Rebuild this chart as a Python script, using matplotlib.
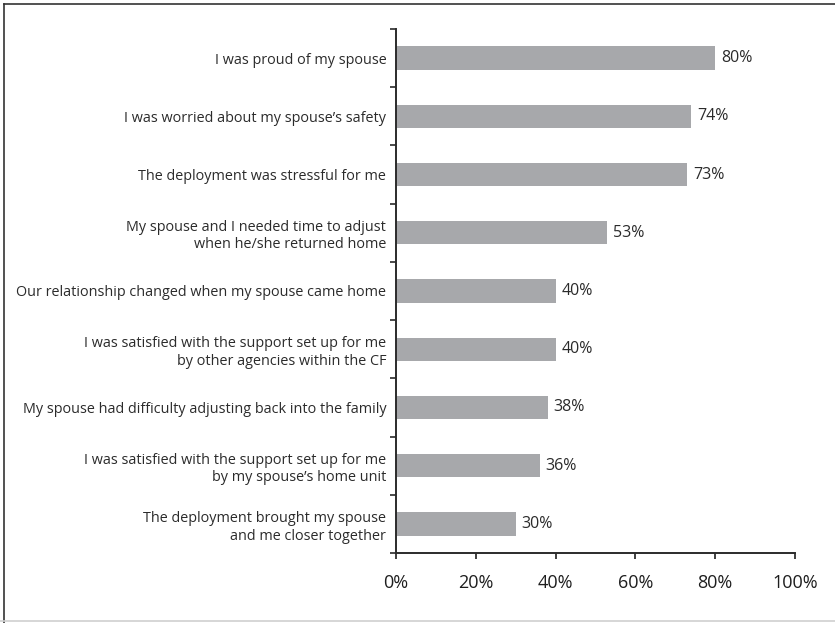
import matplotlib
matplotlib.use("Agg")
import matplotlib.pyplot as plt
from matplotlib.lines import Line2D
from matplotlib.ticker import FixedLocator

statements = [
    "I was proud of my spouse",
    "I was worried about my spouse\u2019s safety",
    "The deployment was stressful for me",
    "My spouse and I needed time to adjust\nwhen he/she returned home",
    "Our relationship changed when my spouse came home",
    "I was satisfied with the support set up for me\nby other agencies within the CF",
    "My spouse had difficulty adjusting back into the family",
    "I was satisfied with the support set up for me\nby my spouse\u2019s home unit",
    "The deployment brought my spouse\nand me closer together",
]
percent = [80, 74, 73, 53, 40, 40, 38, 36, 30]
x_ticks = [0, 20, 40, 60, 80, 100]

TEXT = "#2b2b2b"
BAR = "#a7a8ab"

plt.rcParams["font.family"] = ["Open Sans", "DejaVu Sans"]

fig = plt.figure(figsize=(8.35, 6.23), dpi=100)
ax = fig.add_axes([0.4743, 0.1124, 0.4778, 0.8411])

pos = list(range(len(statements)))
ax.barh(pos, percent, height=0.4, color=BAR, edgecolor="none")
for y, v in zip(pos, percent):
    ax.text(v + 1.5, y, f"{v}%", va="center", ha="left", fontsize=11.5, color=TEXT)

ax.set_xlim(0, 100)
ax.set_ylim(len(statements) - 0.5, -0.5)
ax.set_xticks(x_ticks)
ax.set_xticklabels([f"{t}%" for t in x_ticks], fontsize=13, color="#1e1e1e")
ax.tick_params(axis="x", direction="out", length=4, width=1.2, pad=11, colors="#1e1e1e")

ax.set_yticks(pos)
ax.set_yticklabels(statements, fontsize=10.4, color=TEXT, linespacing=1.25)
ax.tick_params(axis="y", which="major", length=0, pad=7)
ax.yaxis.set_minor_locator(FixedLocator([p - 0.5 for p in range(len(statements) + 1)]))
ax.tick_params(axis="y", which="minor", direction="out", length=4, width=1.2, color=TEXT)

for side in ("top", "right"):
    ax.spines[side].set_visible(False)
for side in ("left", "bottom"):
    ax.spines[side].set_linewidth(1.4)
    ax.spines[side].set_color(TEXT)

# outer frame lines
fig.add_artist(Line2D([0.005, 0.005], [0.0, 0.994], transform=fig.transFigure, color="#333333", lw=1.2))
fig.add_artist(Line2D([0.005, 1.0], [0.994, 0.994], transform=fig.transFigure, color="#333333", lw=1.2))
fig.add_artist(Line2D([0.0, 1.0], [0.003, 0.003], transform=fig.transFigure, color="#d0d0d0", lw=1.2))

fig.savefig("out.png", dpi=100)
